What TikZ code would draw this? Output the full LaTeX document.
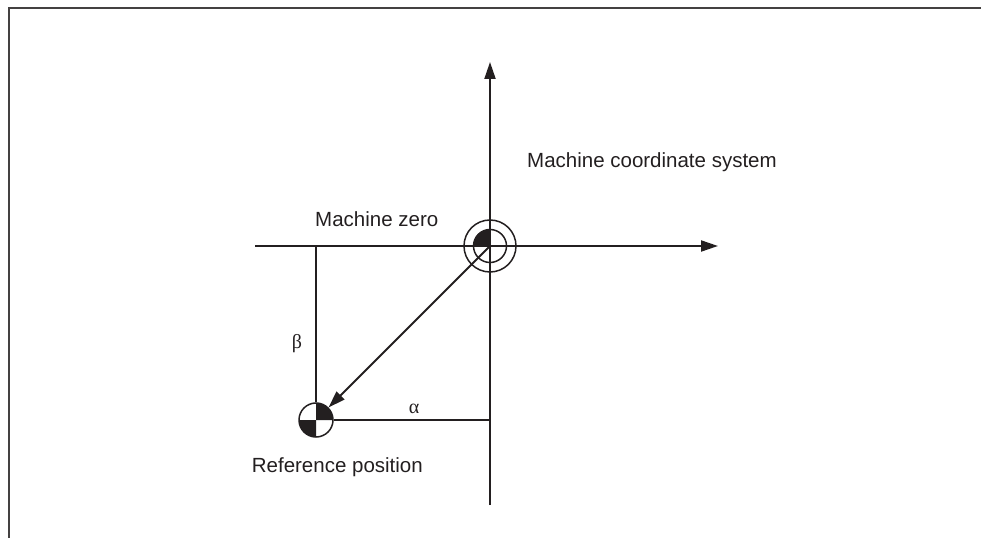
\documentclass[tikz,border=0pt]{standalone}
\usepackage{fontspec}
\setmainfont{Liberation Sans}
\newfontfamily\greekfont{Liberation Serif}
\usetikzlibrary{arrows.meta}
\definecolor{ink}{RGB}{35,31,32}
\begin{document}
\begin{tikzpicture}[x=1pt,y=1pt,
  axis/.style={draw=ink,line width=2pt},
  tip/.style={-{Triangle[length=17pt,width=11pt]}},
  lbl/.style={font=\fontsize{20.5}{24}\selectfont,text=ink,inner sep=0pt},
  glbl/.style={font=\fontsize{20}{24}\selectfont\greekfont,text=ink,inner sep=0pt},
  ring/.style={circle,draw=ink,line width=1.5pt,inner sep=0pt}]
\useasboundingbox (0,0) rectangle (981,538);
% frame
\draw[draw=ink!85,line width=1.6pt] (981,530) -- (9,530) -- (9,0);
% key points
\coordinate (mz) at (490,292);
\coordinate (hl) at (255,292);
\coordinate (hr) at (718,292);
\coordinate (vb) at (490,33);
\coordinate (vt) at (490,476);
\coordinate (bc) at (316,292);
\coordinate (ac) at (490,118);
% axes
\draw[axis,tip] (hl) -- (hr);
\draw[axis,tip] (vb) -- (vt);
% machine zero symbol
\node[ring,minimum size=52pt] (mzo) at (mz) {};
\node[ring,minimum size=33pt] (mzi) at (mz) {};
\fill[ink] (mz) -- ++(180:16.5) arc[start angle=180,end angle=90,radius=16.5] -- cycle;
% reference position symbol
\node[ring,minimum size=34pt] (ref) at (316,118) {};
\fill[ink] (ref.center) -- ++(0:17) arc[start angle=0,end angle=90,radius=17] -- cycle;
\fill[ink] (ref.center) -- ++(180:17) arc[start angle=180,end angle=270,radius=17] -- cycle;
% offsets
\draw[axis] (bc) -- (ref.north);
\draw[axis] (ref.east) -- (ac);
\draw[axis,tip] (mz) -- (ref);
% labels
\node[lbl,anchor=base west] (t1) at (315,311) {Machine zero};
\node[lbl,anchor=base west] (t2) at (527,370) {Machine coordinate system};
\node[lbl,anchor=base east] (t3) at (423,66) {Reference position};
\node[glbl] (beta) at (297,194) {β};
\node[glbl] (alpha) at (414,129) {α};
\end{tikzpicture}
\end{document}
